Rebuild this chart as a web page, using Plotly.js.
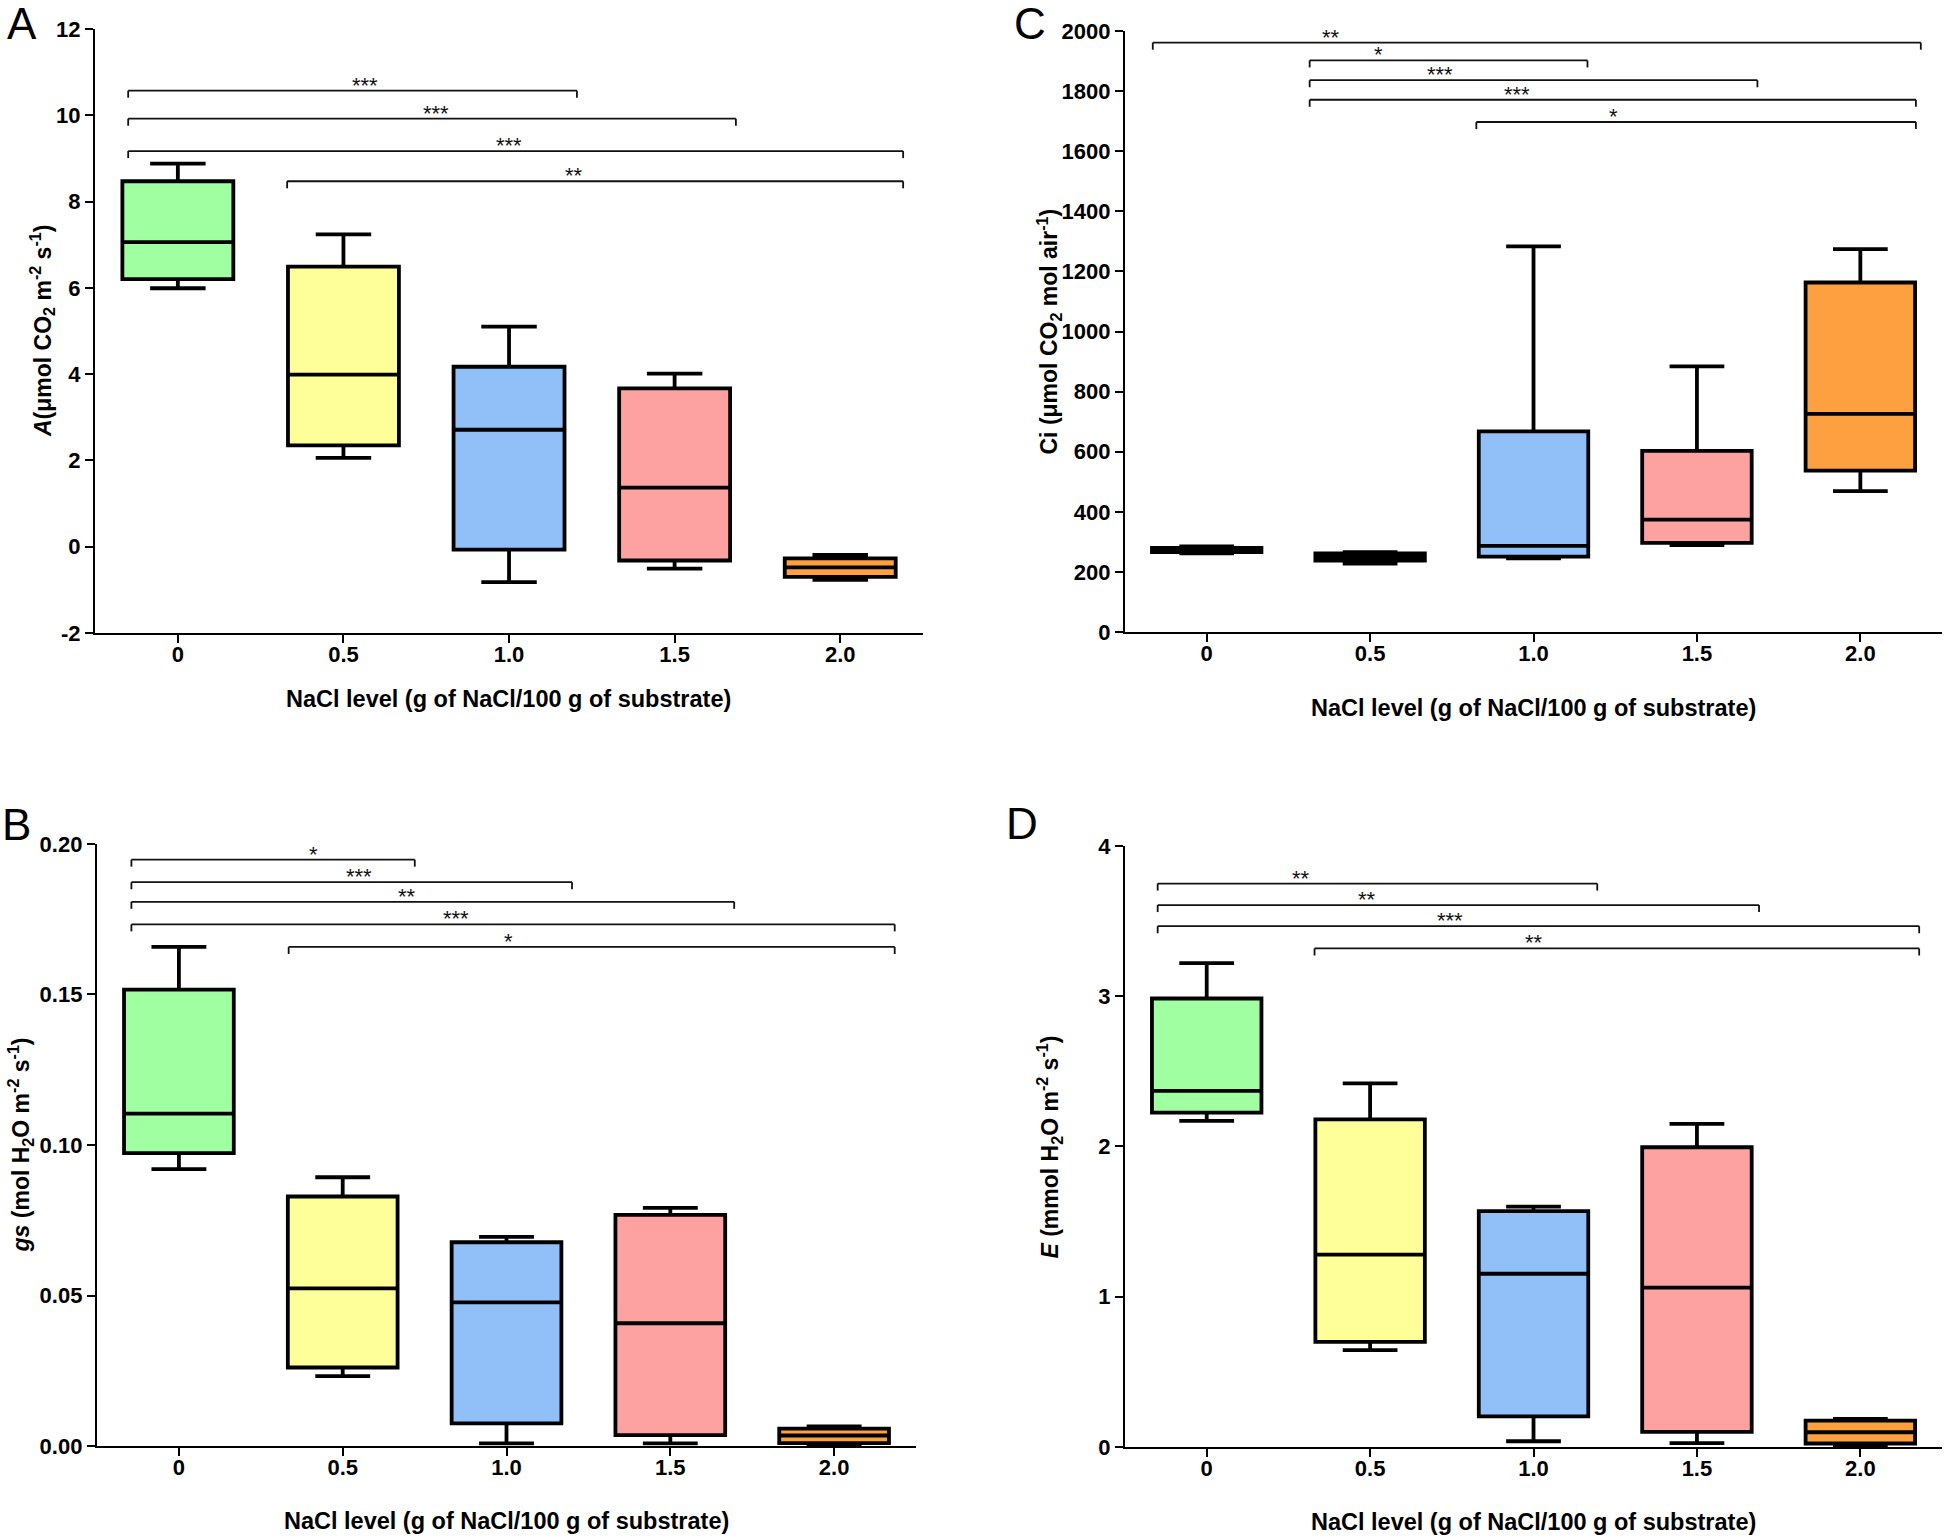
<!DOCTYPE html>
<html>
<head>
<meta charset="utf-8">
<script src="https://cdn.plot.ly/plotly-3.0.1.min.js"></script>
<style>html,body{margin:0;padding:0;background:#fff;}#chart{width:1944px;height:1539px;}</style>
</head>
<body>
<div id="chart"></div>
<script>
// ---- data ----
const categories = ['0', '0.5', '1.0', '1.5', '2.0'];

// Panel A: net photosynthesis
const A_low  = [5.99, 2.06, -0.82, -0.51, -0.77];
const A_q1   = [6.20, 2.35, -0.07, -0.32, -0.70];
const A_med  = [7.06, 3.99, 2.71, 1.37, -0.48];
const A_q3   = [8.47, 6.49, 4.17, 3.67, -0.27];
const A_high = [8.88, 7.24, 5.10, 4.01, -0.19];
const A_ticks = ['-2', '0', '2', '4', '6', '8', '10', '12'];

// Panel B: stomatal conductance
const B_low  = [0.0920, 0.0232, 0.0009, 0.0009, 0.0005];
const B_q1   = [0.0973, 0.0261, 0.0075, 0.0036, 0.0010];
const B_med  = [0.1104, 0.0524, 0.0477, 0.0408, 0.0035];
const B_q3   = [0.1516, 0.0829, 0.0677, 0.0768, 0.0058];
const B_high = [0.1658, 0.0893, 0.0695, 0.0791, 0.0065];
const B_ticks = ['0.00', '0.05', '0.10', '0.15', '0.20'];

// Panel C: intercellular CO2
const C_low  = [262, 228, 245, 289, 469];
const C_q1   = [266, 238, 251, 297, 537];
const C_med  = [274, 250, 287, 374, 726];
const C_q3   = [280, 262, 668, 603, 1163];
const C_high = [285, 266, 1283, 884, 1274];
const C_ticks = ['0', '200', '400', '600', '800', '1000', '1200', '1400', '1600', '1800', '2000'];

// Panel D: transpiration
const D_low  = [2.17, 0.644, 0.038, 0.025, 0.009];
const D_q1   = [2.225, 0.70, 0.204, 0.10, 0.023];
const D_med  = [2.37, 1.28, 1.153, 1.06, 0.098];
const D_q3   = [2.985, 2.18, 1.57, 1.995, 0.176];
const D_high = [3.22, 2.42, 1.60, 2.15, 0.187];
const D_ticks = ['0', '1', '2', '3', '4'];

// significance brackets (category index units / data units)
const A_brFrom = [-0.30, -0.30, -0.30, 0.66];
const A_brTo   = [2.41, 3.37, 4.38, 4.38];
const A_brY    = [10.57, 9.92, 9.17, 8.47];
const A_brText = ['***', '***', '***', '**'];
const A_brTextX = [1.13, 1.56, 2.0, 2.39];

const B_brFrom = [-0.29, -0.29, -0.29, -0.29, 0.67];
const B_brTo   = [1.44, 2.40, 3.39, 4.37, 4.37];
const B_brY    = [0.1948, 0.1873, 0.1808, 0.1733, 0.1658];
const B_brText = ['*', '***', '**', '***', '*'];
const B_brTextX = [0.82, 1.10, 1.39, 1.69, 2.01];

const C_brFrom = [-0.33, 0.63, 0.63, 0.63, 1.65];
const C_brTo   = [4.37, 2.33, 3.37, 4.34, 4.34];
const C_brY    = [1961, 1902, 1836, 1771, 1697];
const C_brText = ['**', '*', '***', '***', '*'];
const C_brTextX = [0.76, 1.05, 1.43, 1.90, 2.49];

const D_brFrom = [-0.30, -0.30, -0.30, 0.66];
const D_brTo   = [2.39, 3.38, 4.36, 4.36];
const D_brY    = [3.75, 3.607, 3.466, 3.318];
const D_brText = ['**', '**', '***', '**'];
const D_brTextX = [0.58, 0.98, 1.49, 2.0];

// ---- styles ----
const fills = ['rgb(160,255,160)', 'rgb(255,255,153)', 'rgb(145,192,248)', 'rgb(253,161,161)', 'rgb(255,160,64)'];
const FONT = 'Liberation Sans, Arial, Helvetica, sans-serif';

const panels = [
  {xa: 'x',  ya: 'y',  low: A_low, q1: A_q1, med: A_med, q3: A_q3, high: A_high, ticks: A_ticks,
   from: A_brFrom, to: A_brTo, by: A_brY, txt: A_brText, tx: A_brTextX, range: [-2, 12]},
  {xa: 'x2', ya: 'y2', low: C_low, q1: C_q1, med: C_med, q3: C_q3, high: C_high, ticks: C_ticks,
   from: C_brFrom, to: C_brTo, by: C_brY, txt: C_brText, tx: C_brTextX, range: [0, 2000]},
  {xa: 'x3', ya: 'y3', low: B_low, q1: B_q1, med: B_med, q3: B_q3, high: B_high, ticks: B_ticks,
   from: B_brFrom, to: B_brTo, by: B_brY, txt: B_brText, tx: B_brTextX, range: [0, 0.2]},
  {xa: 'x4', ya: 'y4', low: D_low, q1: D_q1, med: D_med, q3: D_q3, high: D_high, ticks: D_ticks,
   from: D_brFrom, to: D_brTo, by: D_brY, txt: D_brText, tx: D_brTextX, range: [0, 4]}
];

const traces = [];
const shapes = [];
const annotations = [];

panels.forEach(p => {
  categories.forEach((c, i) => {
    traces.push({
      type: 'box',
      x: [i],
      q1: [p.q1[i]], median: [p.med[i]], q3: [p.q3[i]],
      lowerfence: [p.low[i]], upperfence: [p.high[i]],
      xaxis: p.xa, yaxis: p.ya,
      width: 0.67,
      whiskerwidth: 0.5,
      fillcolor: fills[i],
      line: {color: '#000', width: 3.8},
      boxpoints: false,
      hoverinfo: 'skip',
      showlegend: false
    });
  });
  const span = p.range[1] - p.range[0];
  const drop = 0.0117 * span;
  p.from.forEach((f, k) => {
    const t = p.to[k], y = p.by[k];
    const ln = {type: 'line', xref: p.xa, yref: p.ya, line: {color: '#111', width: 1.8}};
    shapes.push(Object.assign({}, ln, {x0: f, x1: t, y0: y, y1: y}));
    shapes.push(Object.assign({}, ln, {x0: f, x1: f, y0: y, y1: y - drop}));
    shapes.push(Object.assign({}, ln, {x0: t, x1: t, y0: y, y1: y - drop}));
    annotations.push({
      xref: p.xa, yref: p.ya, x: p.tx[k], y: y, text: p.txt[k],
      showarrow: false, xanchor: 'center', yanchor: 'bottom', yshift: -9,
      font: {family: FONT, size: 22, color: '#111'}
    });
  });
});

const tickFont = {family: FONT, size: 22, color: '#000', weight: 'bold'};
function xAxis(domain, anchor) {
  return {
    domain: domain, anchor: anchor, range: [-0.5, 4.5],
    tickmode: 'array', tickvals: [0, 1, 2, 3, 4], ticktext: categories,
    showline: true, linecolor: '#000', linewidth: 2.2,
    ticks: 'outside', ticklen: 8, tickwidth: 2, tickcolor: '#000',
    ticklabelstandoff: -8,
    showgrid: false, zeroline: false, fixedrange: true,
    tickfont: tickFont
  };
}
function yAxis(domain, anchor, p) {
  const n = p.ticks.length;
  const vals = p.ticks.map((t, i) => p.range[0] + (p.range[1] - p.range[0]) * i / (n - 1));
  return {
    domain: domain, anchor: anchor, range: p.range,
    tickmode: 'array', tickvals: vals, ticktext: p.ticks,
    showline: true, linecolor: '#000', linewidth: 2.2,
    ticks: 'outside', ticklen: 8, tickwidth: 2, tickcolor: '#000',
    showgrid: false, zeroline: false, fixedrange: true,
    tickfont: tickFont
  };
}

// axis titles and panel letters
const titleFont = {family: FONT, size: 23.5, color: '#000'};
const xTitle = 'NaCl level (g of NaCl/100 g of substrate)';
[[0.2618, 0.5458], [0.789, 0.540], [0.2605, 0.0117], [0.789, 0.011]].forEach(pos => {
  annotations.push({xref: 'paper', yref: 'paper', x: pos[0], y: pos[1], text: '<b>' + xTitle + '</b>',
    showarrow: false, xanchor: 'center', yanchor: 'middle', font: titleFont});
});
const yTitles = [
  ['<b><i>A</i>(μmol CO<sub>2</sub> m<sup>-2</sup> s<sup>-1</sup>)</b>', 0.0216, 0.7849],
  ['<b>Ci (μmol CO<sub>2</sub> mol air<sup>-1</sup>)</b>', 0.5391, 0.7846],
  ['<b><i>gs</i> (mol H<sub>2</sub>O m<sup>-2</sup> s<sup>-1</sup>)</b>', 0.0105, 0.256],
  ['<b><i>E</i> (mmol H<sub>2</sub>O m<sup>-2</sup> s<sup>-1</sup>)</b>', 0.5396, 0.255]
];
yTitles.forEach(t => {
  annotations.push({xref: 'paper', yref: 'paper', x: t[1], y: t[2], text: t[0], textangle: -90,
    showarrow: false, xanchor: 'center', yanchor: 'middle', font: {family: FONT, size: 23, color: '#000'}});
});
[['A', 0.0113, 0.9850], ['C', 0.5298, 0.9845], ['B', 0.0087, 0.4640], ['D', 0.5258, 0.4646]].forEach(l => {
  annotations.push({xref: 'paper', yref: 'paper', x: l[1], y: l[2], text: l[0],
    showarrow: false, xanchor: 'center', yanchor: 'middle', font: {family: FONT, size: 44, color: '#000'}});
});

const layout = {
  width: 1944, height: 1539,
  margin: {l: 0, r: 0, t: 0, b: 0},
  paper_bgcolor: '#fff', plot_bgcolor: '#fff',
  showlegend: false, boxmode: 'overlay',
  xaxis:  xAxis([0.0489, 0.4748], 'y'),
  yaxis:  yAxis([0.5887, 0.9812], 'x', panels[0]),
  xaxis2: xAxis([0.5787, 0.999], 'y2'),
  yaxis2: yAxis([0.5893, 0.9799], 'x2', panels[1]),
  xaxis3: xAxis([0.0499, 0.4712], 'y3'),
  yaxis3: yAxis([0.0604, 0.4516], 'x3', panels[2]),
  xaxis4: xAxis([0.5787, 0.999], 'y4'),
  yaxis4: yAxis([0.0598, 0.4503], 'x4', panels[3]),
  shapes: shapes,
  annotations: annotations
};

Plotly.newPlot('chart', traces, layout, {displayModeBar: false, staticPlot: true});
</script>
</body>
</html>
